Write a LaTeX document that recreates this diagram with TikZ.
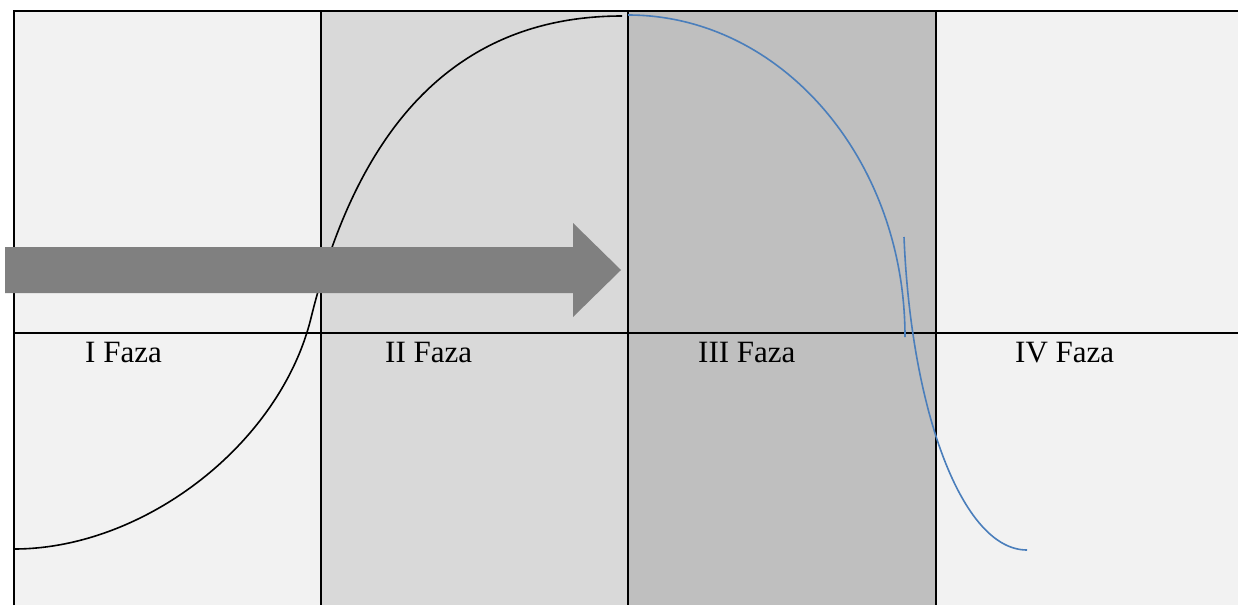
\documentclass[tikz,border=0pt]{standalone}
\usepackage{fontspec}
\setmainfont{Liberation Serif}
\definecolor{colA}{HTML}{F2F2F2}
\definecolor{colB}{HTML}{D9D9D9}
\definecolor{colC}{HTML}{BFBFBF}
\definecolor{bluecurve}{HTML}{4A7EBB}
\definecolor{arrowgray}{HTML}{808080}
\begin{document}
\begin{tikzpicture}[x=1pt,y=-1pt,
  gridline/.style={line width=2pt,black},
  blackcurve/.style={line width=1.6pt,black},
  bluestroke/.style={line width=1.6pt,bluecurve},
  phase/.style={anchor=base west,inner sep=0pt,font=\fontsize{31}{36}\selectfont}]
\useasboundingbox (0,0) rectangle (1238,605);
\fill[white] (0,0) rectangle (1238,605);
% column fills
\fill[colA] (14,11) rectangle (321,605);
\fill[colB] (321,11) rectangle (628,605);
\fill[colC] (628,11) rectangle (936,605);
\fill[colA] (936,11) rectangle (1238,605);
% grid
\draw[gridline] (14,605) -- (14,11) -- (1238,11);
\draw[gridline] (321,11) -- (321,605);
\draw[gridline] (628,11) -- (628,605);
\draw[gridline] (936,11) -- (936,605);
\draw[gridline] (14,333) -- (1238,333);
% black S curve
\coordinate (bs) at (14,549);
\coordinate (bm) at (311,318);
\coordinate (be) at (622,16);
\draw[blackcurve] (bs) .. controls (144,549) and (280,444) .. (bm)
  .. controls (355,139) and (447,16) .. (be);
% blue curves
\coordinate (u1s) at (628,15);
\coordinate (u1e) at (905,337);
\draw[bluestroke] (u1s) .. controls (781,15) and (905,159) .. (u1e);
\coordinate (u2s) at (904,237);
\coordinate (u2e) at (1027,550);
\draw[bluestroke] (u2s) .. controls (911,410) and (962,550) .. (u2e);
% arrow
\fill[arrowgray] (5,247) -- (573,247) -- (573,223) -- (621,270) -- (573,317) -- (573,293) -- (5,293) -- cycle;
% labels
\node[phase] (p1) at (85,362) {I Faza};
\node[phase] (p2) at (385,362) {II Faza};
\node[phase] (p3) at (698,362) {III Faza};
\node[phase] (p4) at (1015,362) {IV Faza};
\end{tikzpicture}
\end{document}
